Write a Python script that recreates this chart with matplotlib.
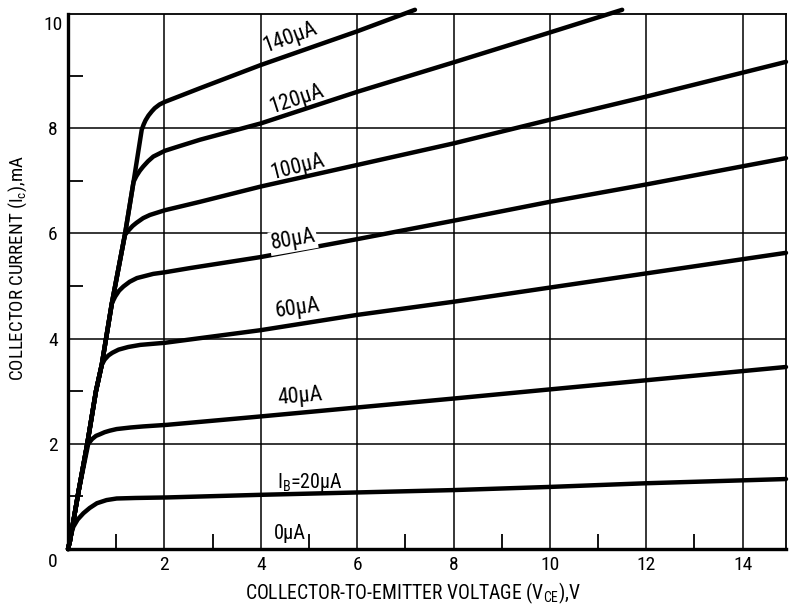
import matplotlib
matplotlib.use('Agg')
import matplotlib.pyplot as plt
from matplotlib import font_manager

# --- data (V_CE in volts, I_C in mA) ---
# shared saturation envelope that every curve climbs from the origin
env_vce = [0, 0.04, 0.22, 0.40, 0.58, 0.70, 0.91, 1.18, 1.36, 1.53]
env_ic = [0, 0.15, 1.10, 2.00, 3.00, 3.50, 4.67, 5.97, 6.98, 7.97]

vce_0 = [0, 14.9]
ic_0 = [0, 0]

vce_20 = [0.04, 0.11, 0.20, 0.32, 0.45, 0.60, 0.80, 1.01, 1.40, 2.05, 4, 8, 10, 12, 14.9]
ic_20 = [0.20, 0.42, 0.56, 0.68, 0.78, 0.87, 0.93, 0.96, 0.97, 0.98, 1.03, 1.12, 1.18, 1.25, 1.33]

vce_40 = [0.42, 0.50, 0.58, 0.66, 0.76, 0.87, 1.01, 1.30, 1.56, 2.05, 4, 6, 8, 14.9]
ic_40 = [2.00, 2.09, 2.15, 2.18, 2.22, 2.25, 2.28, 2.31, 2.33, 2.36, 2.52, 2.69, 2.86, 3.46]

vce_60 = [0.70, 0.76, 0.84, 0.92, 1.05, 1.25, 1.50, 2.01, 4, 6, 8, 14.9]
ic_60 = [3.50, 3.60, 3.68, 3.73, 3.79, 3.84, 3.88, 3.92, 4.16, 4.45, 4.70, 5.63]

vce_80 = [0.91, 0.98, 1.06, 1.15, 1.28, 1.43, 1.77, 2.01, 2.53, 4, 6, 8, 10, 12, 14.9]
ic_80 = [4.67, 4.80, 4.91, 4.99, 5.08, 5.15, 5.23, 5.26, 5.34, 5.55, 5.89, 6.24, 6.60, 6.93, 7.43]

vce_100 = [1.18, 1.26, 1.34, 1.42, 1.56, 1.70, 2.01, 2.74, 4, 6, 8, 10, 12, 14.9]
ic_100 = [5.97, 6.06, 6.14, 6.20, 6.29, 6.35, 6.44, 6.60, 6.89, 7.30, 7.71, 8.16, 8.60, 9.26]

vce_120 = [1.36, 1.42, 1.49, 1.56, 1.66, 1.77, 2.01, 2.32, 2.74, 4, 6, 8, 9.9, 11.5]
ic_120 = [6.98, 7.09, 7.19, 7.27, 7.37, 7.46, 7.57, 7.66, 7.78, 8.09, 8.69, 9.25, 9.79, 10.25]

vce_140 = [1.53, 1.57, 1.61, 1.67, 1.74, 1.80, 1.90, 2.01, 2.32, 2.74, 4, 6, 7.2]
ic_140 = [7.97, 8.07, 8.15, 8.24, 8.32, 8.38, 8.45, 8.50, 8.61, 8.76, 9.20, 9.84, 10.25]

curve_labels = ['140\u00b5A', '120\u00b5A', '100\u00b5A', '80\u00b5A', '60\u00b5A',
                '40\u00b5A', 'I$_\\mathrm{B}$=20\u00b5A', '0\u00b5A']
label_x = [4.61, 4.75, 4.77, 4.67, 4.77, 4.81, 5.02, 4.61]
label_y = [9.73, 8.54, 7.26, 5.87, 4.58, 2.89, 1.27, 0.30]
label_rot = [20, 18, 14, 10, 8, 5, 0, 0]
label_w = [56, 56, 55, 45, 45, 45, 66, 32]   # text widths in px on the reference

x_ticks = [2, 4, 6, 8, 10, 12, 14]
y_ticks = [2, 4, 6, 8, 10]

# --- font: narrow sans like the original print, if one is around ---
fonts = font_manager.fontManager.ttflist
names = {f.name for f in fonts}
fam = 'Liberation Sans'
for cand in ['Liberation Sans Narrow', 'Roboto Condensed', 'DejaVu Sans Condensed']:
    if cand in names:
        fam = cand
        break
else:
    if any(f.name == 'Roboto' and f.stretch in ('condensed', 'semi-condensed') for f in fonts):
        fam = 'Roboto'
        plt.rcParams['font.stretch'] = 'condensed'
plt.rcParams['font.family'] = [fam, 'DejaVu Sans']
plt.rcParams['mathtext.fontset'] = 'custom'
plt.rcParams['mathtext.rm'] = fam
plt.rcParams['mathtext.it'] = fam
plt.rcParams['mathtext.bf'] = fam

fig = plt.figure(figsize=(7.93, 6.06), dpi=100)
ax = fig.add_axes([68/793, 1-549/606, (786-68)/793, (549-14)/606])
renderer = fig.canvas.get_renderer()


def fit_size(s, target_w, base=13.0):
    t = fig.text(0, 0, s, fontsize=base)
    w = t.get_window_extent(renderer).width
    t.remove()
    return base * target_w / w


# grid
for xv in x_ticks:
    ax.axvline(xv, color='k', lw=1.1, zorder=1)
for yv in y_ticks[:-1]:
    ax.axhline(yv, color='k', lw=1.1, zorder=1)


def with_envelope(vce, ic):
    xs = [v for v, i in zip(env_vce, env_ic) if i < ic[0]]
    ys = [i for i in env_ic if i < ic[0]]
    return xs + list(vce), ys + list(ic)


curves = [(vce_20, ic_20), (vce_40, ic_40), (vce_60, ic_60), (vce_80, ic_80),
          (vce_100, ic_100), (vce_120, ic_120), (vce_140, ic_140)]
for vce, ic in curves:
    xs, ys = with_envelope(vce, ic)
    ax.plot(xs, ys, color='k', lw=3.2, solid_joinstyle='round',
            solid_capstyle='round', zorder=3, clip_on=False)
ax.plot(vce_0, ic_0, color='k', lw=2.2, zorder=3, clip_on=False)

for txt, lx, ly, rot, tw in zip(curve_labels, label_x, label_y, label_rot, label_w):
    kw = {}
    if txt.startswith('80'):
        kw['bbox'] = dict(facecolor='white', edgecolor='none', pad=1)
    ax.text(lx, ly, txt, fontsize=fit_size(txt, tw), rotation=rot,
            rotation_mode='anchor', ha='center', va='center', zorder=4, **kw)

ax.set_xlim(0, 14.9)
ax.set_ylim(0, 10.17)

ax.set_xticks(x_ticks)
ax.set_yticks(y_ticks)
ax.set_xticks(range(1, 15, 2), minor=True)
ax.set_yticks(range(1, 10, 2), minor=True)
ax.tick_params(axis='both', which='major', length=0, labelsize=14)
ax.tick_params(axis='x', which='major', pad=5)
ax.tick_params(axis='y', which='major', pad=11)
for lab in ax.get_yticklabels():
    lab.set_ha('center')
ax.tick_params(axis='both', which='minor', direction='in', length=11, width=1.3)

for side in ['left', 'bottom']:
    ax.spines[side].set_linewidth(2.4)
for side in ['top', 'right']:
    ax.spines[side].set_linewidth(1.3)

fig.text(53/793, 1-562/606, '0', fontsize=14, ha='center', va='center')
xl = 'COLLECTOR-TO-EMITTER VOLTAGE (V$_\\mathrm{CE}$),V'
fig.text(413/793, 1-593/606, xl, fontsize=fit_size(xl, 336),
         ha='center', va='center')
yl = 'COLLECTOR CURRENT (I$_\\mathrm{c}$),mA'
fig.text(18/793, 1-268/606, yl, fontsize=fit_size(yl, 225),
         ha='center', va='center', rotation=90)

fig.savefig('out.png', dpi=100)
